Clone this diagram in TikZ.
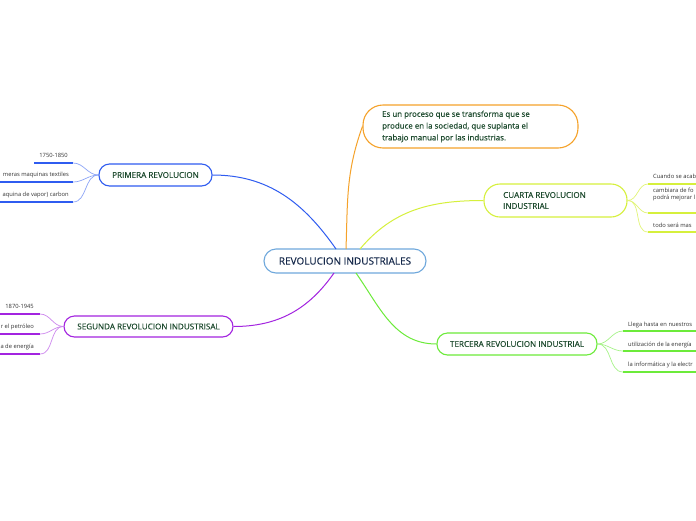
\documentclass[tikz,border=0pt]{standalone}
\usepackage{fontspec}
\setmainfont{Open Sans}
\newfontfamily\boxfont[FakeBold=0.35]{Open Sans}
\definecolor{cblue}{HTML}{2F5CF0}
\definecolor{cpurple}{HTML}{A324E0}
\definecolor{corange}{HTML}{F5A22A}
\definecolor{cyellow}{HTML}{D6F03C}
\definecolor{cgreen}{HTML}{6CEB3A}
\definecolor{ccentral}{HTML}{6FA8DC}
\definecolor{txtgreen}{HTML}{1D4A2E}
\definecolor{txtnavy}{HTML}{15284A}
\definecolor{leaftext}{HTML}{333333}
\tikzset{
  branchbox/.style={draw, rounded corners=10.5pt, line width=1.1pt, fill=white, text=txtgreen,
    font=\boxfont\fontsize{8.1}{9.6}\selectfont, inner sep=0pt, align=center},
  leaftxt/.style={text=leaftext, font=\fontsize{5.8}{7.4}\selectfont, inner sep=0pt},
  mainlink/.style={line width=1pt},
  leaflink/.style={line width=0.7pt},
  underl/.style={line width=1.8pt},
}
\begin{document}
\begin{tikzpicture}[x=1pt,y=-1pt]
\useasboundingbox[fill=white] (0,0) rectangle (696,520);

% central
\node[draw=ccentral, rounded corners=12pt, line width=1.1pt, fill=white, text=txtnavy,
  font=\boxfont\fontsize{10}{11}\selectfont, inner sep=0pt, minimum width=162pt, minimum height=24pt]
  (cent) at (345,261) {REVOLUCION INDUSTRIALES};
\coordinate (cBlue) at (336,249);
\coordinate (cOrange) at (346,249);
\coordinate (cYellow) at (360,249);
\coordinate (cPurple) at (334,273);
\coordinate (cGreen) at (356,273);

% orange note
\node[draw=corange, rounded corners=20pt, line width=1.1pt, fill=white, text=txtgreen,
  minimum width=215pt, minimum height=43pt, inner sep=0pt] (note) at (470.5,126.5) {};
\node[text=txtgreen, font=\boxfont\fontsize{7.9}{11.8}\selectfont, align=left, anchor=west, inner sep=0pt]
  (notetxt) at (382,126.5) {Es un proceso que se transforma que se\\produce en la sociedad, que suplanta el\\trabajo manual por las industrias.};

% branches
\node[branchbox, draw=cblue, minimum width=113pt, minimum height=22pt] (prim) at (155.5,175) {PRIMERA REVOLUCION};
\node[branchbox, draw=cpurple, minimum width=169pt, minimum height=21pt] (seg) at (148.5,326.5) {SEGUNDA REVOLUCION INDUSTRISAL};
\node[branchbox, draw=cyellow, rounded corners=16pt, minimum width=143pt, minimum height=33pt] (cuar) at (555.5,200.5) {};
\node[text=txtgreen, font=\boxfont\fontsize{8.1}{11}\selectfont, align=left, anchor=west, inner sep=0pt]
  (cuartxt) at (503,200.5) {CUARTA REVOLUCION\\INDUSTRIAL};
\node[branchbox, draw=cgreen, minimum width=160pt, minimum height=22pt] (terc) at (517,344) {TERCERA REVOLUCION INDUSTRIAL};

% main links
\draw[mainlink, cblue] (cBlue) to[out=125,in=0] (prim.east);
\draw[mainlink, cpurple] (cPurple) to[out=235,in=0] (seg.east);
\draw[mainlink, corange] (cOrange) to[out=88,in=250] (note.west);
\draw[mainlink, cyellow] (cYellow) to[out=50,in=180] (cuar.west);
\draw[mainlink, cgreen] (cGreen) to[out=305,in=180] (terc.west);

% Primera leaves
\coordinate (p1a) at (34,163); \coordinate (p1b) at (73,163);
\coordinate (p2a) at (-2,182); \coordinate (p2b) at (73,182);
\coordinate (p3a) at (-2,202); \coordinate (p3b) at (73,202);
\draw[underl, cblue] (p1a) -- (p1b);
\draw[underl, cblue] (p2a) -- (p2b);
\draw[underl, cblue] (p3a) -- (p3b);
\draw[leaflink, cblue!55] (prim.west) to[out=180,in=0] (p1b);
\draw[leaflink, cblue!55] (prim.west) to[out=180,in=0] (p2b);
\draw[leaflink, cblue!55] (prim.west) to[out=180,in=0] (p3b);
\node[leaftxt, anchor=base east] (pt1) at (68,157.5) {1750-1850};
\node[leaftxt, anchor=base east] (pt2) at (69,176.5) {meras maquinas textiles};
\node[leaftxt, anchor=base east] (pt3) at (69,196.5) {aquina de vapor) carbon};

% Segunda leaves
\coordinate (s1a) at (-2,314); \coordinate (s1b) at (40,314);
\coordinate (s2a) at (-2,334); \coordinate (s2b) at (40,334);
\coordinate (s3a) at (-2,354); \coordinate (s3b) at (40,354);
\draw[underl, cpurple] (s1a) -- (s1b);
\draw[underl, cpurple] (s2a) -- (s2b);
\draw[underl, cpurple] (s3a) -- (s3b);
\draw[leaflink, cpurple!55] (seg.west) to[out=180,in=0] (s1b);
\draw[leaflink, cpurple!55] (seg.west) to[out=180,in=0] (s2b);
\draw[leaflink, cpurple!55] (seg.west) to[out=180,in=0] (s3b);
\node[leaftxt, anchor=base east] (st1) at (34,308.5) {1870-1945};
\node[leaftxt, anchor=base east] (st2) at (34,328.5) {r el petróleo};
\node[leaftxt, anchor=base east] (st3) at (34,348.5) {a de energía};

% Cuarta leaves
\coordinate (q1a) at (648,184); \coordinate (q1b) at (700,184);
\coordinate (q2a) at (648,213); \coordinate (q2b) at (700,213);
\coordinate (q3a) at (648,232); \coordinate (q3b) at (700,232);
\draw[underl, cyellow] (q1a) -- (q1b);
\draw[underl, cyellow] (q2a) -- (q2b);
\draw[underl, cyellow] (q3a) -- (q3b);
\draw[leaflink, cyellow!70] (cuar.east) to[out=0,in=180] (q1a);
\draw[leaflink, cyellow!70] (cuar.east) to[out=0,in=180] (q2a);
\draw[leaflink, cyellow!70] (cuar.east) to[out=0,in=180] (q3a);
\node[leaftxt, anchor=base west] (qt1) at (653,178.5) {Cuando se acab};
\node[leaftxt, anchor=base west, align=left] (qt2) at (653,199.5) {cambiara de fo\\podrá mejorar l};
\node[leaftxt, anchor=base west] (qt3) at (653,227.5) {todo será mas};

% Tercera leaves
\coordinate (t1a) at (623,331); \coordinate (t1b) at (700,331);
\coordinate (t2a) at (623,351); \coordinate (t2b) at (700,351);
\coordinate (t3a) at (623,372); \coordinate (t3b) at (700,372);
\draw[underl, cgreen] (t1a) -- (t1b);
\draw[underl, cgreen] (t2a) -- (t2b);
\draw[underl, cgreen] (t3a) -- (t3b);
\draw[leaflink, cgreen!60] (terc.east) to[out=0,in=180] (t1a);
\draw[leaflink, cgreen!60] (terc.east) to[out=0,in=180] (t2a);
\draw[leaflink, cgreen!60] (terc.east) to[out=0,in=180] (t3a);
\node[leaftxt, anchor=base west] (tt1) at (628,326) {Llega hasta en nuestros};
\node[leaftxt, anchor=base west] (tt2) at (628,346) {utilización de la energía};
\node[leaftxt, anchor=base west] (tt3) at (628,366.5) {la informática y la electr};
\end{tikzpicture}
\end{document}
